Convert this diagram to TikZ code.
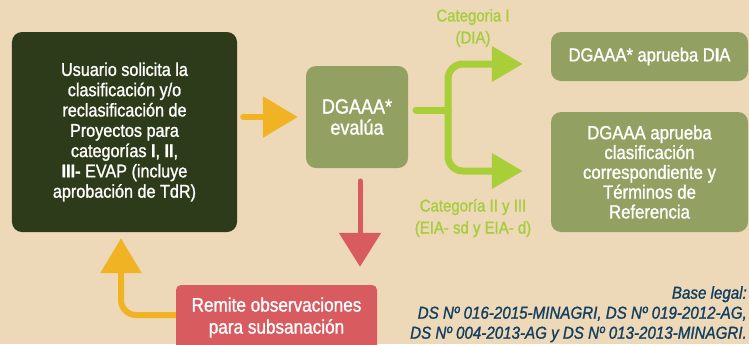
\documentclass[tikz,border=0pt]{standalone}
\usepackage{fontspec}
\setmainfont{Liberation Sans}[FakeStretch=0.88,FakeBold=1.2]
\usetikzlibrary{arrows.meta}
\definecolor{bgc}{RGB}{237,216,184}
\definecolor{darkg}{RGB}{46,59,26}
\definecolor{oliveg}{RGB}{146,161,98}
\definecolor{limeg}{RGB}{168,206,56}
\definecolor{limet}{RGB}{166,206,60}
\definecolor{orng}{RGB}{240,179,35}
\definecolor{redc}{RGB}{216,91,96}
\definecolor{navy}{RGB}{18,62,96}
\tikzset{
  box/.style={rounded corners=10bp, text=white, align=center, inner sep=0pt},
  darkbox/.style={box, fill=darkg},
  olivebox/.style={box, fill=oliveg},
  redbox/.style={box, fill=redc, rounded corners=5bp},
  orarrow/.style={draw=orng, line width=6bp, line cap=round,
     -{Triangle[length=35bp,width=40bp]}, orng},
  redarrow/.style={draw=redc, line width=5bp, line cap=round,
     -{Triangle[length=34bp,width=41bp]}, redc},
  limeline/.style={draw=limeg, line width=7bp, line cap=round, rounded corners=15bp},
  limearrow/.style={limeline, -{Triangle[length=31bp,width=34bp]}, limeg},
  lbl/.style={text=limet, align=center, inner sep=0pt,
     font=\fontsize{17bp}{22bp}\selectfont},
}
\begin{document}
\begin{tikzpicture}[x=1bp,y=-1bp]
\fill[bgc] (0,0) rectangle (749,344);
\useasboundingbox (0,0) rectangle (749,344);

\node[darkbox, minimum width=225bp, minimum height=200bp,
      font=\fontsize{18.4bp}{20.3bp}\selectfont] (usr) at (124.5,132)
  {Usuario solicita la\\clasificación y/o\\reclasificación de\\Proyectos para\\categorías \textbf{I}, \textbf{II},\\\textbf{III-} EVAP (incluye\\aprobación de TdR)};

\node[olivebox, minimum width=102bp, minimum height=102bp,
      font=\fontsize{20.5bp}{21bp}\selectfont] (eval) at (357,117)
  {DGAAA*\\evalúa};

\node[olivebox, minimum width=197bp, minimum height=49bp,
      font=\fontsize{18.8bp}{20bp}\selectfont] (dia) at (649.5,56.5)
  {DGAAA* aprueba D\textbf{I}A};

\node[olivebox, minimum width=197bp, minimum height=120bp,
      font=\fontsize{19bp}{19.8bp}\selectfont] (ref) at (649.5,172)
  {DGAAA aprueba\\clasificación\\correspondiente y\\Términos de\\Referencia};

\node[redbox, minimum width=201bp, minimum height=65bp,
      font=\fontsize{19.5bp}{22bp}\selectfont] (red) at (276.5,317.5)
  {Remite observaciones\\para subsanación};

% orange arrow usr -> eval
\draw[orarrow, shorten <=6bp, shorten >=8bp] (usr.east|-eval.west) -- (eval.west);

% red arrow eval -> red box
\coordinate (rtop) at (360,168);
\draw[redarrow, shorten <=13bp, shorten >=18bp] (rtop) -- (rtop|-red.north);

% orange return arrow red -> usr
\coordinate (turn) at (121,315);
\draw[orarrow, rounded corners=15bp, shorten >=6bp, line cap=butt] (red.west|-turn) -- (turn) -- (turn|-usr.south);

% lime branches
\coordinate (st) at (416,110);
\coordinate (jn) at (448,110);
\coordinate (tp) at (448,64);
\coordinate (bt) at (448,171);
\draw[limeline] (st) -- (jn);
\draw[limearrow, shorten >=28bp] (jn) -- (tp) -- (tp-|dia.west);
\draw[limearrow, shorten >=28bp] (jn) -- (bt) -- (bt-|ref.west);

\node[lbl] (c1) at (473,28) {Categoria I\\(DIA)};
\node[lbl] (c2) at (473,218) {Categoría II y III\\(EIA- sd y EIA- d)};

\node[text=navy, align=right, anchor=north east, inner sep=0pt,
      font=\fontsize{17.2bp}{20bp}\selectfont\itshape] (base) at (747,286)
  {Base legal:\\DS Nº 016-2015-MINAGRI, DS Nº 019-2012-AG,\\DS Nº 004-2013-AG y DS Nº 013-2013-MINAGRI.};
\end{tikzpicture}
\end{document}
